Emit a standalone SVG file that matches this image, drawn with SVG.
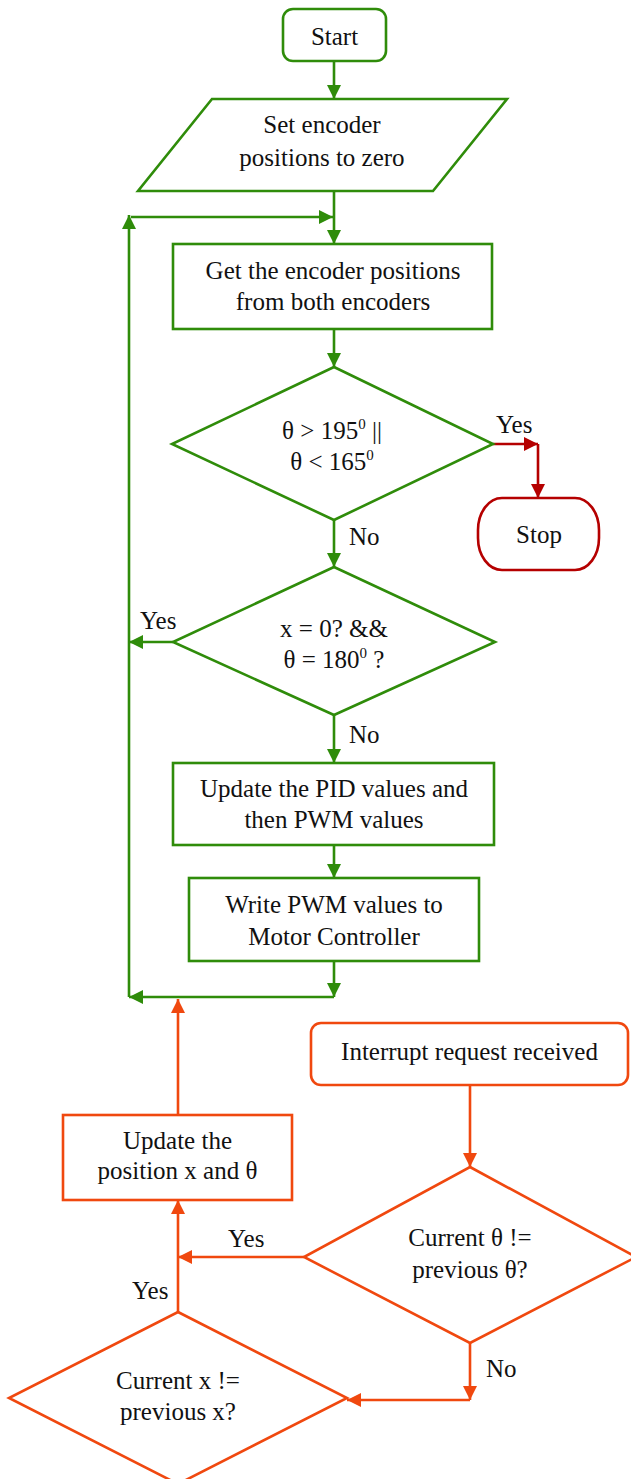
<svg xmlns="http://www.w3.org/2000/svg" width="631" height="1479" viewBox="0 0 631 1479">
<style>
text{font-family:"Liberation Serif","Times New Roman",serif;font-size:25px;fill:#111;text-anchor:middle}
.lbl{text-anchor:start}
.g{fill:#fff;stroke:#2f8c0a;stroke-width:2.6}
.r{fill:#fff;stroke:#b50000;stroke-width:2.6}
.o{fill:#fff;stroke:#f0480f;stroke-width:2.6}
.cg{fill:none;stroke:#2f8c0a;stroke-width:2.6;marker-end:url(#ag)}
.cr{fill:none;stroke:#b50000;stroke-width:2.6;marker-end:url(#ar)}
.co{fill:none;stroke:#f0480f;stroke-width:2.6;marker-end:url(#ao)}
.nm{marker-end:none}
</style>
<defs>
<marker id="ag" markerUnits="userSpaceOnUse" markerWidth="15" markerHeight="14" refX="14" refY="7" orient="auto"><path d="M0,0 L14,7 L0,14 z" fill="#2f8c0a"/></marker>
<marker id="ar" markerUnits="userSpaceOnUse" markerWidth="15" markerHeight="14" refX="14" refY="7" orient="auto"><path d="M0,0 L14,7 L0,14 z" fill="#b50000"/></marker>
<marker id="ao" markerUnits="userSpaceOnUse" markerWidth="15" markerHeight="14" refX="14" refY="7" orient="auto"><path d="M0,0 L14,7 L0,14 z" fill="#f0480f"/></marker>
</defs>
<g id="connectors">
<path class="cg" d="M334,61 V99"/>
<path class="cg" d="M334,191 V244"/>
<path class="cg" d="M131,217 H333"/>
<path class="cg" d="M129,997 V215"/>
<path class="cg" d="M334,329 V367"/>
<path class="cr" d="M493,444 H538"/>
<path class="cr" d="M538,444 V498"/>
<path class="cg" d="M334,520 V567"/>
<path class="cg" d="M173,642 H129"/>
<path class="cg" d="M334,715 V763"/>
<path class="cg" d="M334,845 V878"/>
<path class="cg" d="M334,961 V997"/>
<path class="cg" d="M334,997 H129"/>
<path class="co" d="M178,1115 V999"/>
<path class="co" d="M470,1085 V1167"/>
<path class="co" d="M304,1257 H178"/>
<path class="co" d="M470,1343 V1400"/>
<path class="co" d="M470,1400 H347"/>
<path class="co" d="M178,1312 V1200"/>
<text class="lbl" x="496" y="433">Yes</text>
<text class="lbl" x="349" y="545">No</text>
<text class="lbl" x="140" y="629">Yes</text>
<text class="lbl" x="349" y="743">No</text>
<text class="lbl" x="228" y="1247">Yes</text>
<text class="lbl" x="132" y="1299">Yes</text>
<text class="lbl" x="486" y="1377">No</text>
</g>
<g id="start">
<rect class="g" x="283" y="9" width="103" height="52" rx="10"/>
<text x="334.5" y="45">Start</text>
</g>
<g id="set-encoder">
<polygon class="g" points="212,99 507,99 433,191 138,191"/>
<text x="322" y="133">Set encoder</text>
<text x="322" y="166">positions to zero</text>
</g>
<g id="get-positions">
<rect class="g" x="173" y="244" width="319" height="85"/>
<text x="333" y="279">Get the encoder positions</text>
<text x="333" y="310">from both encoders</text>
</g>
<g id="check-angle">
<polygon class="g" points="334,367 493,444 334,520 172,444"/>
<text x="332" y="439">θ &gt; 195<tspan font-size="15" dy="-10">0</tspan><tspan dy="10"> ||</tspan></text>
<text x="332" y="470">θ &lt; 165<tspan font-size="15" dy="-10">0</tspan></text>
</g>
<g id="stop">
<rect class="r" x="478" y="498" width="121" height="72" rx="24" ry="32"/>
<text x="539" y="543">Stop</text>
</g>
<g id="check-origin">
<polygon class="g" points="334,567 495,642 334,715 173,642"/>
<text x="334" y="637">x = 0? &amp;&amp;</text>
<text x="334" y="668">θ = 180<tspan font-size="15" dy="-10">0</tspan><tspan dy="10"> ?</tspan></text>
</g>
<g id="update-pid">
<rect class="g" x="173" y="763" width="321" height="82"/>
<text x="334" y="797">Update the PID values and</text>
<text x="334" y="828">then PWM values</text>
</g>
<g id="write-pwm">
<rect class="g" x="189" y="878" width="290" height="83"/>
<text x="334" y="913">Write PWM values to</text>
<text x="334" y="945">Motor Controller</text>
</g>
<g id="interrupt">
<rect class="o" x="311" y="1023" width="317" height="62" rx="10"/>
<text x="469.5" y="1060">Interrupt request received</text>
</g>
<g id="check-theta">
<polygon class="o" points="470,1167 636,1257 470,1343 304,1257"/>
<text x="470" y="1246">Current θ !=</text>
<text x="470" y="1278">previous θ?</text>
</g>
<g id="update-position">
<rect class="o" x="63" y="1115" width="229" height="85"/>
<text x="177.5" y="1149">Update the</text>
<text x="177.5" y="1179">position x and θ</text>
</g>
<g id="check-x">
<polygon class="o" points="178,1312 347,1398 178,1484 9,1398"/>
<text x="178" y="1389">Current x !=</text>
<text x="178" y="1420">previous x?</text>
</g>
</svg>
